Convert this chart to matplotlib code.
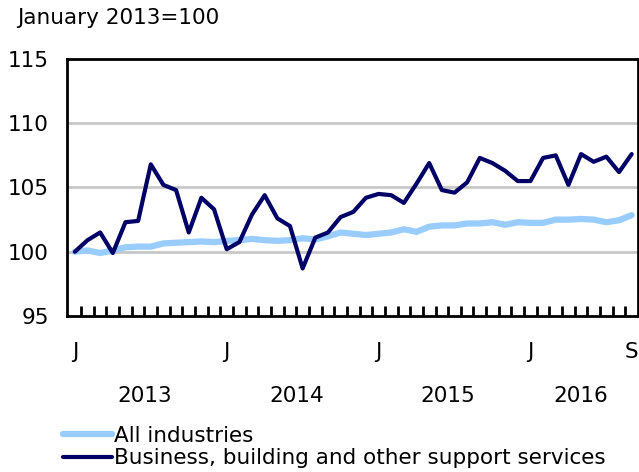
import numpy as np
import matplotlib
matplotlib.use("Agg")
import matplotlib.pyplot as plt

# Monthly index, January 2013 = 100, Jan 2013 .. Sep 2016
all_industries = [
    100.0, 100.1, 99.9, 100.1, 100.35, 100.4, 100.4, 100.65, 100.7, 100.75, 100.8, 100.75,
    100.85, 100.9, 101.0, 100.9, 100.85, 100.9, 101.05, 100.95, 101.2, 101.5, 101.4, 101.3,
    101.4, 101.5, 101.75, 101.55, 101.95, 102.05, 102.05, 102.2, 102.2, 102.3, 102.1, 102.3,
    102.25, 102.25, 102.5, 102.5, 102.55, 102.5, 102.3, 102.45, 102.85,
]
business_services = [
    100.0, 100.9, 101.5, 99.9, 102.3, 102.4, 106.8, 105.2, 104.8, 101.5, 104.2, 103.3,
    100.2, 100.75, 102.9, 104.4, 102.6, 102.0, 98.7, 101.1, 101.5, 102.7, 103.1, 104.2,
    104.5, 104.4, 103.8, 105.3, 106.9, 104.8, 104.6, 105.4, 107.3, 106.9, 106.3, 105.5,
    105.5, 107.3, 107.5, 105.2, 107.6, 107.0, 107.4, 106.2, 107.6,
]
years = ["2013", "2014", "2015", "2016"]
month_labels = {0: "J", 12: "J", 24: "J", 36: "J", 44: "S"}
y_ticks = [95, 100, 105, 110, 115]

light = "#99ccff"
dark = "#000066"
fs = 15.5

x = np.arange(len(all_industries))

fig = plt.figure(figsize=(6.39, 4.72), dpi=100)
ax = fig.add_axes([67 / 639, 1 - 316 / 472, (638 - 67) / 639, (316 - 59) / 472])

for v in [100, 105, 110]:
    ax.axhline(v, color="#c8c8c8", lw=2, zorder=1)

l1, = ax.plot(x, all_industries, color=light, lw=4.5, solid_capstyle="round",
              solid_joinstyle="round", zorder=2)
l2, = ax.plot(x, business_services, color=dark, lw=3, solid_capstyle="round",
              solid_joinstyle="round", zorder=3)

ax.set_xlim(-0.62, 44.5)
ax.set_ylim(95, 115)
ax.set_yticks(y_ticks)
ax.set_yticklabels([str(v) for v in y_ticks], fontsize=fs)
ax.tick_params(axis="y", length=0, pad=13)

# month boundary ticks, pointing inward
ax.set_xticks(np.arange(0.5, len(x) - 1, 1.0))
ax.set_xticklabels([])
ax.tick_params(axis="x", direction="in", length=7, width=2, color="black")

for s in ax.spines.values():
    s.set_linewidth(2)
    s.set_color("black")

trans = ax.get_xaxis_transform()
for pos, lab in month_labels.items():
    ax.text(pos, -0.14, lab, transform=trans, ha="center", va="center", fontsize=fs)
for i, yr in enumerate(years):
    last = min(i * 12 + 11, len(x) - 1)
    ax.text((i * 12 + last) / 2, -0.31, yr, transform=trans, ha="center", va="center",
            fontsize=fs)

fig.text(17 / 639, 1 - 18 / 472, "January 2013=100", ha="left", va="center", fontsize=fs)

fig.legend([l1, l2], ["All industries", "Business, building and other support services"],
           loc="upper left", bbox_to_anchor=(52 / 639, 1 - 415 / 472), frameon=False,
           fontsize=fs, handlelength=2.3, handletextpad=0.1, labelspacing=0.12,
           borderpad=0)

fig.savefig("out.png", dpi=100)
